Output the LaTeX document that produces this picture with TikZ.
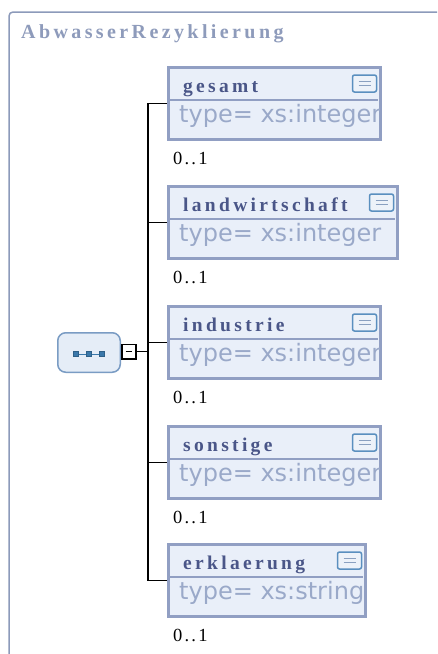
\documentclass[tikz,border=0pt]{standalone}
\usepackage{fontspec}
\usetikzlibrary{backgrounds}
\newfontfamily\titlef{Liberation Serif}[LetterSpace=17]
\newfontfamily\headf{Liberation Serif}[LetterSpace=17]
\newfontfamily\multf{Liberation Serif}[LetterSpace=12]
\newfontfamily\typef{DejaVu Sans}
\definecolor{framec}{HTML}{8C9ABA}
\definecolor{titlec}{HTML}{8E9BBB}
\definecolor{boxc}{HTML}{919FC3}
\definecolor{boxfill}{HTML}{E9EFF9}
\definecolor{headc}{HTML}{4A5688}
\definecolor{typec}{HTML}{9AA9C9}
\definecolor{iconc}{HTML}{5A8FBF}
\definecolor{iconfill}{HTML}{EDF2F9}
\definecolor{iconline}{HTML}{8AA0C0}
\definecolor{seqc}{HTML}{7A9CC4}
\definecolor{seqfill}{HTML}{E5EDF7}
\definecolor{sqc}{HTML}{3A78AA}
\tikzset{
  elbox/.style={draw=boxc, fill=boxfill, line width=3pt, inner sep=0pt, outer sep=0pt,
    anchor=north west, minimum height=72pt},
  divider/.style={draw=boxc, line width=2pt},
  icon/.style={draw=iconc, fill=iconfill, line width=1.5pt, rounded corners=2pt,
    minimum width=24pt, minimum height=17pt, inner sep=0pt, outer sep=0pt,
    path picture={
      \draw[iconline, line width=1.2pt]
        ([xshift=6pt,yshift=2pt]path picture bounding box.west) -- ([xshift=-6pt,yshift=2pt]path picture bounding box.east)
        ([xshift=6pt,yshift=-2pt]path picture bounding box.west) -- ([xshift=-6pt,yshift=-2pt]path picture bounding box.east);
    }},
  headtxt/.style={anchor=base west, inner sep=0pt, text=headc, font=\headf\bfseries\fontsize{19.5}{22}\selectfont},
  typetxt/.style={anchor=base west, inner sep=0pt, text=typec, font=\typef\fontsize{24}{27}\selectfont},
  multtxt/.style={anchor=base west, inner sep=0pt, text=black, font=\multf\fontsize{18.5}{20}\selectfont},
  conn/.style={draw=black, line width=1.6pt},
  seqbox/.style={draw=seqc, fill=seqfill, line width=1.5pt, rounded corners=8pt,
    minimum width=62.5pt, minimum height=39.5pt, inner sep=0pt, outer sep=0pt},
  sq/.style={draw=sqc!80!black, fill=sqc, line width=0.6pt, minimum size=4.6pt, inner sep=0pt},
  minusbox/.style={draw=black, fill=white, line width=1.8pt, minimum size=14.2pt, inner sep=0pt, outer sep=0pt,
    path picture={\draw[black, line width=1.4pt]
      ([xshift=3.8pt]path picture bounding box.west) -- ([xshift=-3.8pt]path picture bounding box.east);}},
}
\newcommand{\elem}[5]{% name, x, y, width, title
  \node[elbox, minimum width=#4pt] (#1) at (#2,#3) {};
  \draw[divider] ([xshift=1.5pt,yshift=-32.5pt]#1.north west) -- ([xshift=-2.5pt,yshift=-32.5pt]#1.north east);
  \node[icon] (#1i) at ([xshift=-16pt,yshift=-16pt]#1.north east) {};
  \node[headtxt] (#1h) at ([xshift=14.5pt,yshift=-24.5pt]#1.north west) {#5};
  \node[multtxt] (#1m) at ([xshift=4.5pt,yshift=-25pt]#1.south west) {0..1};
}
\newcommand{\elemtype}[2]{% name, type
  \begin{scope}
    \clip ([xshift=1.5pt,yshift=-1.5pt]#1.north west) rectangle ([xshift=-1.5pt,yshift=1.5pt]#1.south east);
    \node[typetxt] (#1t) at ([xshift=10.5pt,yshift=-54.5pt]#1.north west) {type= xs:#2};
  \end{scope}
}
\begin{document}
\begin{tikzpicture}[x=1pt,y=-1pt]
\useasboundingbox (0,0) rectangle (437,654);
\clip (0,0) rectangle (437,654);
\draw[draw=framec, line width=1.5pt, rounded corners=4pt] (9,700) -- (9,12) -- (500,12);
\node[anchor=base west, inner sep=0pt, text=titlec, font=\titlef\bfseries\fontsize{20}{22}\selectfont] (title) at (21,38) {AbwasserRezyklierung};

\elem{b1}{168.5}{67.5}{212}{gesamt}
\elemtype{b1}{integer}
\elem{b2}{168.5}{186.5}{229}{landwirtschaft}
\elemtype{b2}{integer}
\elem{b3}{168.5}{306.5}{212}{industrie}
\elemtype{b3}{integer}
\elem{b4}{168.5}{426.5}{212}{sonstige}
\elemtype{b4}{integer}
\elem{b5}{168.5}{544.5}{197}{erklaerung}
\elemtype{b5}{string}

\node[seqbox] (seq) at (89,352.5) {};
\coordinate (c1) at ([xshift=-13pt,yshift=-1.5pt]seq.center);
\coordinate (c2) at ([yshift=-1.5pt]seq.center);
\coordinate (c3) at ([xshift=13pt,yshift=-1.5pt]seq.center);
\draw[sqc, line width=0.8pt] (c1) -- (c3);
\node[sq] (s1) at (c1) {};
\node[sq] (s2) at (c2) {};
\node[sq] (s3) at (c3) {};
\node[minusbox] (mb) at (129,351.5) {};
\coordinate (sp) at (148,0);

\begin{pgfonlayer}{background}
  \fill[white] (0,0) rectangle (437,654);
  \draw[conn] (b1.west) -- (b1.west -| sp) -- (b5.west -| sp) -- (b5.west);
  \draw[conn] (b2.west) -- (b2.west -| sp);
  \draw[conn] (b3.west) -- (b3.west -| sp);
  \draw[conn] (b4.west) -- (b4.west -| sp);
  \draw[conn] (mb.east) -- (mb.east -| sp);
\end{pgfonlayer}
\end{tikzpicture}
\end{document}
